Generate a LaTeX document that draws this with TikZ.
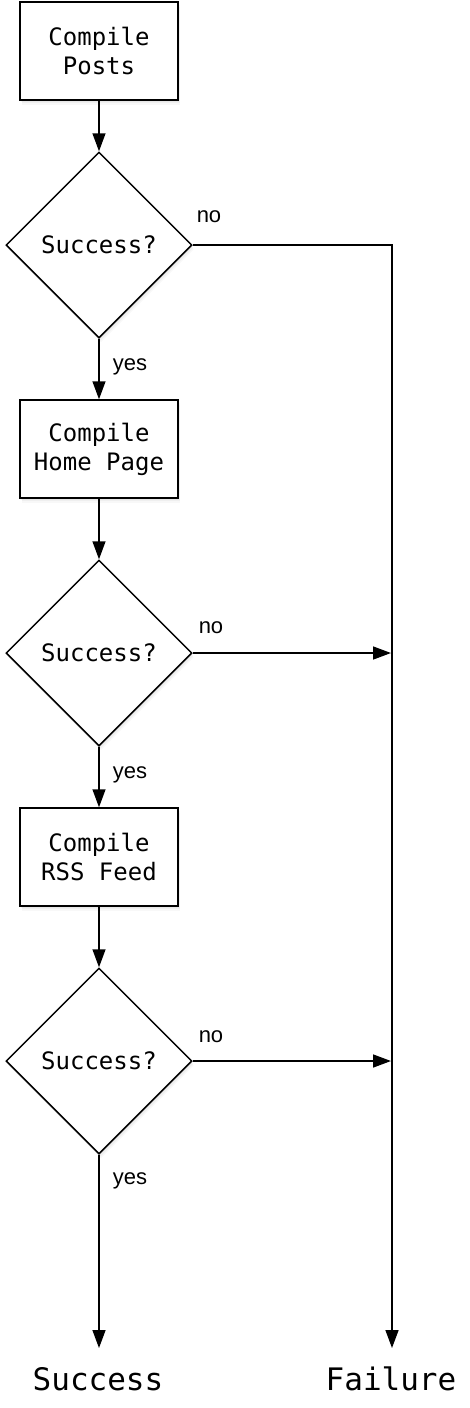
\documentclass[tikz,border=0pt]{standalone}
\usepackage{fontspec}
\setmonofont{DejaVu Sans Mono}
\newfontfamily\labelfont{Liberation Sans}
\usetikzlibrary{shapes.geometric,arrows.meta,shadows}
\begin{document}
\begin{tikzpicture}[x=1pt,y=-1pt,
  every node/.style={inner sep=0pt},
  softshadow/.style={
    drop shadow={opacity=0.07, shadow xshift=1pt, shadow yshift=-1.5pt},
    drop shadow={opacity=0.07, shadow xshift=1.5pt, shadow yshift=-3pt},
    drop shadow={opacity=0.06, shadow xshift=2pt, shadow yshift=-4.5pt}},
  stepbox/.style={draw, line width=1.5pt, fill=white, rectangle,
    minimum width=158pt, minimum height=98pt, align=center,
    font=\ttfamily\fontsize{24}{29}\selectfont, softshadow},
  decision/.style={draw, line width=1.5pt, fill=white, diamond, aspect=1,
    minimum width=186pt, minimum height=186pt,
    font=\ttfamily\fontsize{24}{29}\selectfont, softshadow},
  endtext/.style={anchor=base, font=\ttfamily\fontsize{31}{37}\selectfont},
  lbl/.style={anchor=base, font=\labelfont\fontsize{22}{26}\selectfont},
  conn/.style={line width=1.5pt, -{Triangle[length=18pt,width=13pt]}}
]
\useasboundingbox (0,0) rectangle (470,1408);

\node[stepbox] (b1) at (99,51) {Compile\\Posts};
\node[decision] (d1) at (99,245) {Success?};
\node[stepbox] (b2) at (99,449) {Compile\\Home Page};
\node[decision] (d2) at (99,653) {Success?};
\node[stepbox] (b3) at (99,857) {Compile\\RSS Feed};
\node[decision] (d3) at (99,1061) {Success?};

\node[endtext] (succ) at (98,1390) {Success};
\node[endtext] (fail) at (391,1390) {Failure};

\coordinate (corner) at (392,245);
\coordinate (fend) at (392,1348);
\coordinate (send) at (99,1348);
\coordinate (j2) at (391,653);
\coordinate (j3) at (391,1061);

\draw[conn] (b1.south) -- (d1.north);
\draw[conn] (d1.south) -- (b2.north);
\draw[conn] (b2.south) -- (d2.north);
\draw[conn] (d2.south) -- (b3.north);
\draw[conn] (b3.south) -- (d3.north);
\draw[conn] (d3.south) -- (send);

\draw[conn] (d1.east) -- (corner) -- (fend);
\draw[conn] (d2.east) -- (j2);
\draw[conn] (d3.east) -- (j3);

\node[lbl] (no1) at (209,222) {no};
\node[lbl] (no2) at (211,633) {no};
\node[lbl] (no3) at (211,1042) {no};
\node[lbl] (yes1) at (130,370) {yes};
\node[lbl] (yes2) at (130,778) {yes};
\node[lbl] (yes3) at (130,1184) {yes};
\end{tikzpicture}
\end{document}
